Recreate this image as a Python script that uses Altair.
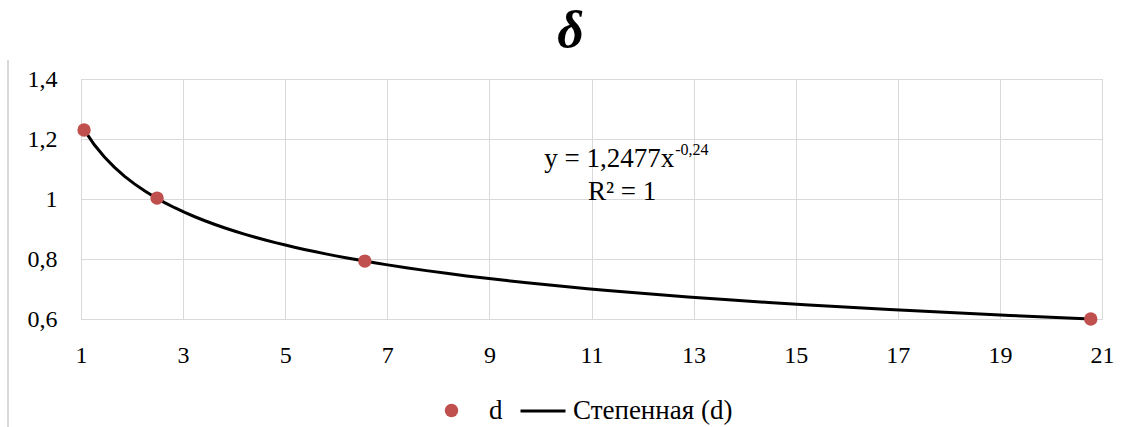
import altair as alt
import pandas as pd

# data
x_vals = [1.06, 2.49, 6.56, 20.78]
y_vals = [1.23, 1.003, 0.793, 0.60]
series_names = ["d", "Степенная (d)"]
series_colors = ["#c0504d", "#000000"]

x_ticks = [1, 3, 5, 7, 9, 11, 13, 15, 17, 19, 21]
y_ticks = [0.6, 0.8, 1.0, 1.2, 1.4]

eq_main = ["y = 1,2477x"]
eq_sup = ["-0,24"]
eq_r2 = ["R² = 1"]
eq_x = [12.62, 11.6]
eq_y = [1.107, 0.997]

FONT = "Liberation Serif"

pts = pd.DataFrame({"x": x_vals, "y": y_vals, "series": series_names[0]})

xscale = alt.Scale(domain=[x_ticks[0], x_ticks[-1]], nice=False, zero=False)
yscale = alt.Scale(domain=[y_ticks[0], y_ticks[-1]], nice=False, zero=False)

xaxis = alt.Axis(values=x_ticks, title=None, grid=True, gridColor="#d9d9d9",
                 domainColor="#d9d9d9", ticks=False, labelPadding=24,
                 labelFont=FONT, labelFontSize=24, labelColor="#000000",
                 labelFlush=False)
yaxis = alt.Axis(values=y_ticks, title=None, grid=True, gridColor="#d9d9d9",
                 domain=False, ticks=False, labelPadding=24,
                 labelFont=FONT, labelFontSize=24, labelColor="#000000",
                 labelExpr="replace(format(datum.value, '.1~f'), '.', ',')")

fill = alt.Fill("series:N", scale=alt.Scale(domain=[series_names[0]], range=[series_colors[0]]),
                legend=alt.Legend(title=None, orient="none", legendX=357, legendY=318,
                                  direction="horizontal", labelFont=FONT, labelFontSize=27,
                                  labelColor="#000000", symbolType="circle", symbolSize=180,
                                  symbolStrokeWidth=0, labelOffset=24))
stroke = alt.Stroke("series:N", scale=alt.Scale(domain=[series_names[1]], range=[series_colors[1]]),
                    legend=alt.Legend(title=None, orient="none", legendX=438, legendY=308,
                                      direction="horizontal", labelFont=FONT, labelFontSize=27,
                                      labelColor="#000000", symbolType="stroke", symbolSize=2025,
                                      symbolStrokeWidth=3, labelOffset=6))

points = alt.Chart(pts).mark_point(filled=True, opacity=1, size=180).encode(
    x=alt.X("x:Q", scale=xscale, axis=xaxis),
    y=alt.Y("y:Q", scale=yscale, axis=yaxis),
    fill=fill,
)

trend = alt.Chart(pts).transform_regression(
    "x", "y", method="pow", extent=[min(x_vals), max(x_vals)]
).transform_calculate(series=f"'{series_names[1]}'").mark_line(strokeWidth=3).encode(
    x=alt.X("x:Q", scale=xscale),
    y=alt.Y("y:Q", scale=yscale),
    stroke=stroke,
)

ann1 = alt.Chart(pd.DataFrame({"t": eq_main, "x": [eq_x[0]], "y": [eq_y[0]]})).mark_text(
    font=FONT, fontSize=27, align="right", baseline="alphabetic", color="#000000"
).encode(x="x:Q", y="y:Q", text="t:N")
ann2 = alt.Chart(pd.DataFrame({"t": eq_sup, "x": [eq_x[0]], "y": [eq_y[0]]})).mark_text(
    font=FONT, fontSize=16, align="left", baseline="alphabetic", dy=-12, dx=1, color="#000000"
).encode(x="x:Q", y="y:Q", text="t:N")
ann3 = alt.Chart(pd.DataFrame({"t": eq_r2, "x": [eq_x[1]], "y": [eq_y[1]]})).mark_text(
    font=FONT, fontSize=27, align="center", baseline="alphabetic", color="#000000"
).encode(x="x:Q", y="y:Q", text="t:N")

border = alt.Chart(pts).mark_rule(color="#d9d9d9", strokeWidth=2).encode(
    x=alt.value(-73), y=alt.value(-19), y2=alt.value(350)
)

chart = alt.layer(border, trend, points, ann1, ann2, ann3).properties(
    width=1021, height=240,
    title=alt.Title("δ", font=FONT, fontSize=52, fontWeight="bold", fontStyle="italic",
                    color="#000000", anchor="middle", dx=-21, offset=1),
    padding={"left": 81, "top": 79, "right": 27, "bottom": 108},
    autosize=alt.AutoSizeParams(type="none"),
).resolve_scale(fill="independent", stroke="independent").configure_view(stroke="#d9d9d9")

chart.save("out.html", embed_options={"renderer": "svg", "actions": False})
